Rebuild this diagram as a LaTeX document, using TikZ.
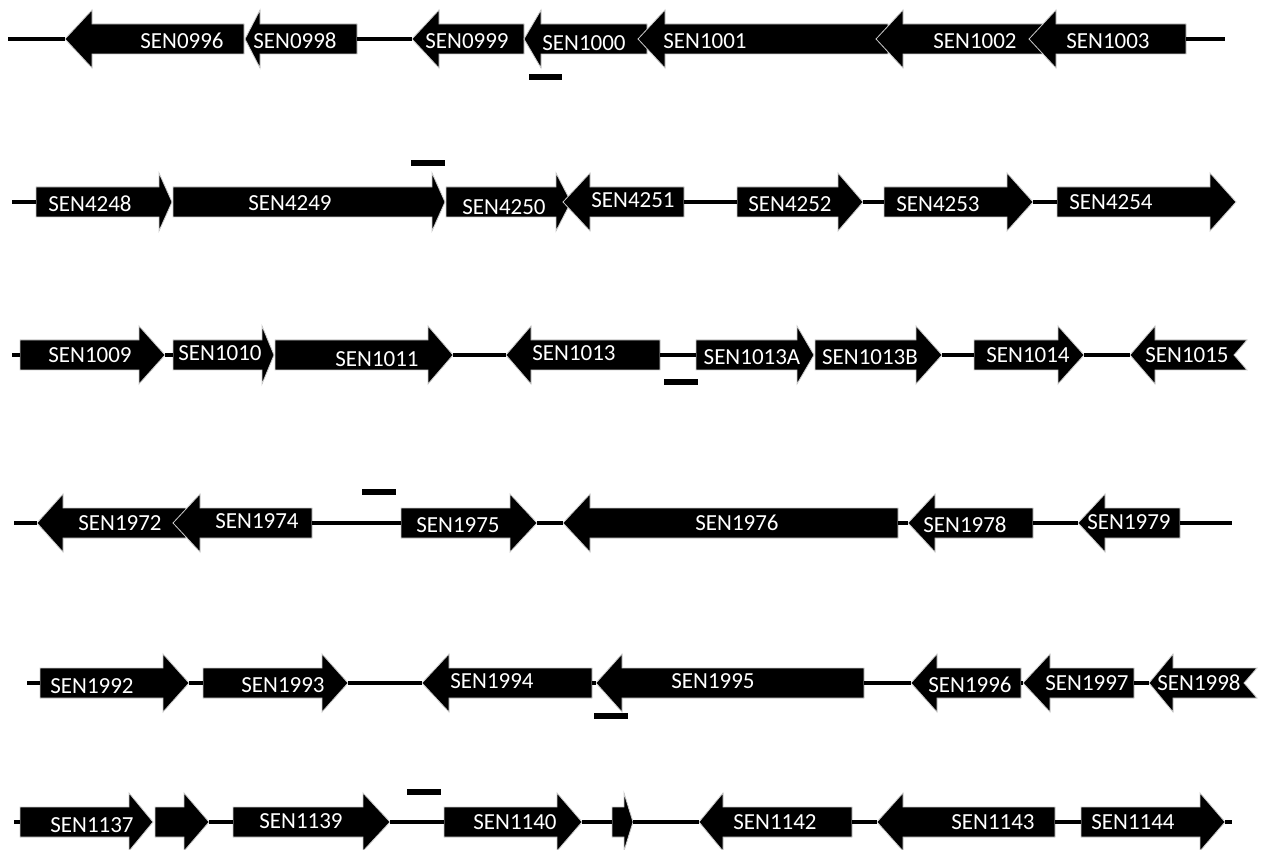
\documentclass[tikz,border=0pt]{standalone}
\usepackage{fontspec}
\setmainfont{Carlito}
\usepackage{tikz}
\usetikzlibrary{backgrounds}
\tikzset{gene/.style={fill=black, draw=white!80!black, line width=0.4pt}}
\tikzset{backbone/.style={draw=black, line width=1.6pt}}
\tikzset{genelabel/.style={text=white, inner sep=0pt, font=\fontsize{11.5}{13}\selectfont}}
\tikzset{probe/.style={fill=black}}

% name, left end, head base, tip, row, label position, label
\newcommand{\fwdgene}[7]{%
  \path[gene] (#2,#5-15) -- (#3,#5-15) -- (#3,#5-29) -- (#4,#5) -- (#3,#5+29) -- (#3,#5+15) -- (#2,#5+15) -- cycle;
  \coordinate (#1-w) at (#2,#5);
  \coordinate (#1-e) at (#4,#5);
  \node[genelabel] (#1) at (#6) {#7};
}
% name, tip, head base, right end, row, label position, label
\newcommand{\revgene}[7]{%
  \path[gene] (#2,#5) -- (#3,#5-29) -- (#3,#5-15) -- (#4,#5-15) -- (#4,#5+15) -- (#3,#5+15) -- (#3,#5+29) -- cycle;
  \coordinate (#1-w) at (#2,#5);
  \coordinate (#1-e) at (#4,#5);
  \node[genelabel] (#1) at (#6) {#7};
}
\newcommand{\revgenecut}[7]{%
  \path[gene] (#2,#5) -- (#3,#5-29) -- (#3,#5-15) -- (#4,#5-15) -- (#4-13,#5) -- (#4,#5+15) -- (#3,#5+15) -- (#3,#5+29) -- cycle;
  \coordinate (#1-w) at (#2,#5);
  \coordinate (#1-e) at (#4-13,#5);
  \node[genelabel] (#1) at (#6) {#7};
}

\begin{document}
\begin{tikzpicture}[x=0.5pt, y=-0.5pt]
    \useasboundingbox (0,0) rectangle (1265,850);

    \revgene{s0996}{65}{92}{244}{39}{182,41}{SEN0996}
    \revgene{s0998}{245}{260}{357}{39}{295,41}{SEN0998}
    \revgene{s0999}{412}{439}{524}{39}{467,41}{SEN0999}
    \revgene{s1000}{524}{541}{647}{39}{584,43}{SEN1000}
    \revgene{s1001}{638}{665}{888}{39}{705,41}{SEN1001}
    \revgene{s1002}{876}{903}{1044}{39}{975,41}{SEN1002}
    \revgene{s1003}{1029}{1056}{1186}{39}{1108,41}{SEN1003}
    \coordinate (r1a) at (8,39);
    \coordinate (r1b) at (1225,39);
    \draw[backbone] (r1a) -- (s0996-w);
    \draw[backbone] (s0998-e) -- (s0999-w);
    \draw[backbone] (s1003-e) -- (r1b);
    \path[probe] (529,74) rectangle (562,80);

    \fwdgene{s4248}{36}{159}{172}{202}{90,204}{SEN4248}
    \fwdgene{s4249}{173}{432}{445}{202}{290,203}{SEN4249}
    \fwdgene{s4250}{446}{556}{571}{202}{504,207}{SEN4250}
    \revgene{s4251}{563}{590}{684}{202}{633,200}{SEN4251}
    \fwdgene{s4252}{737}{838}{863}{202}{790,204}{SEN4252}
    \fwdgene{s4253}{884}{1007}{1033}{202}{938,204}{SEN4253}
    \fwdgene{s4254}{1057}{1210}{1236}{202}{1111,202}{SEN4254}
    \coordinate (r2a) at (12,202);
    \draw[backbone] (r2a) -- (s4248-w);
    \draw[backbone] (s4251-e) -- (s4252-w);
    \draw[backbone] (s4252-e) -- (s4253-w);
    \draw[backbone] (s4253-e) -- (s4254-w);
    \path[probe] (411,160) rectangle (445,166);

    \fwdgene{s1009}{20}{139}{165}{355}{90,355}{SEN1009}
    \fwdgene{s1010}{173}{262}{274}{355}{220,353}{SEN1010}
    \fwdgene{s1011}{275}{428}{453}{355}{377,359}{SEN1011}
    \revgene{s1013}{506}{531}{660}{355}{574,353}{SEN1013}
    \fwdgene{s1013a}{696}{797}{814}{355}{752,357}{SEN1013A}
    \fwdgene{s1013b}{815}{916}{942}{355}{870,357}{SEN1013B}
    \fwdgene{s1014}{974}{1058}{1084}{355}{1028,355}{SEN1014}
    \revgenecut{s1015}{1130}{1155}{1247}{355}{1187,355}{SEN1015}
    \coordinate (r3a) at (12,355);
    \draw[backbone] (r3a) -- (s1009-w);
    \draw[backbone] (s1009-e) -- (s1010-w);
    \draw[backbone] (s1011-e) -- (s1013-w);
    \draw[backbone] (s1013-e) -- (s1013a-w);
    \draw[backbone] (s1013b-e) -- (s1014-w);
    \draw[backbone] (s1014-e) -- (s1015-w);
    \path[probe] (664,379) rectangle (698,385);

    \revgene{s1972}{37}{63}{186}{523}{120,523}{SEN1972}
    \revgene{s1974}{173}{200}{312}{523}{257,521}{SEN1974}
    \fwdgene{s1975}{401}{510}{537}{523}{458,525}{SEN1975}
    \revgene{s1976}{563}{590}{898}{523}{737,523}{SEN1976}
    \revgene{s1978}{908}{935}{1033}{523}{965,525}{SEN1978}
    \revgene{s1979}{1078}{1105}{1180}{523}{1129,522}{SEN1979}
    \coordinate (r4a) at (14,523);
    \coordinate (r4b) at (1232,523);
    \draw[backbone] (r4a) -- (s1972-w);
    \draw[backbone] (s1974-e) -- (s1975-w);
    \draw[backbone] (s1975-e) -- (s1976-w);
    \draw[backbone] (s1976-e) -- (s1978-w);
    \draw[backbone] (s1978-e) -- (s1979-w);
    \draw[backbone] (s1979-e) -- (r4b);
    \path[probe] (362,489) rectangle (396,495);

    \fwdgene{s1992}{40}{163}{189}{683}{92,686}{SEN1992}
    \fwdgene{s1993}{203}{322}{348}{683}{283,685}{SEN1993}
    \revgene{s1994}{422}{449}{592}{683}{492,681}{SEN1994}
    \revgene{s1995}{596}{622}{864}{683}{713,681}{SEN1995}
    \revgene{s1996}{911}{937}{1021}{683}{970,685}{SEN1996}
    \revgene{s1997}{1023}{1050}{1134}{683}{1087,683}{SEN1997}
    \revgenecut{s1998}{1149}{1173}{1257}{683}{1199,683}{SEN1998}
    \coordinate (r5a) at (27,683);
    \draw[backbone] (r5a) -- (s1992-w);
    \draw[backbone] (s1992-e) -- (s1993-w);
    \draw[backbone] (s1993-e) -- (s1994-w);
    \draw[backbone] (s1994-e) -- (s1995-w);
    \draw[backbone] (s1995-e) -- (s1996-w);
    \draw[backbone] (s1996-e) -- (s1997-w);
    \draw[backbone] (s1997-e) -- (s1998-w);
    \path[probe] (594,713) rectangle (628,719);

    \fwdgene{s1137}{20}{129}{153}{822}{92,825}{SEN1137}
    \fwdgene{s1138}{155}{184}{209}{822}{170,822}{}
    \fwdgene{s1139}{233}{363}{390}{822}{301,821}{SEN1139}
    \fwdgene{s1140}{444}{557}{582}{822}{515,822}{SEN1140}
    \fwdgene{s1141}{612}{624}{633}{822}{618,822}{}
    \revgene{s1142}{699}{723}{852}{822}{775,822}{SEN1142}
    \revgene{s1143}{877}{903}{1055}{822}{993,822}{SEN1143}
    \fwdgene{s1144}{1081}{1200}{1225}{822}{1133,822}{SEN1144}
    \coordinate (r6a) at (14,822);
    \coordinate (r6b) at (1232,822);
    \draw[backbone] (r6a) -- (s1137-w);
    \draw[backbone] (s1138-e) -- (s1139-w);
    \draw[backbone] (s1139-e) -- (s1140-w);
    \draw[backbone] (s1140-e) -- (s1141-w);
    \draw[backbone] (s1141-e) -- (s1142-w);
    \draw[backbone] (s1142-e) -- (s1143-w);
    \draw[backbone] (s1143-e) -- (s1144-w);
    \draw[backbone] (s1144-e) -- (r6b);
    \path[probe] (407,789) rectangle (441,795);
\end{tikzpicture}
\end{document}
